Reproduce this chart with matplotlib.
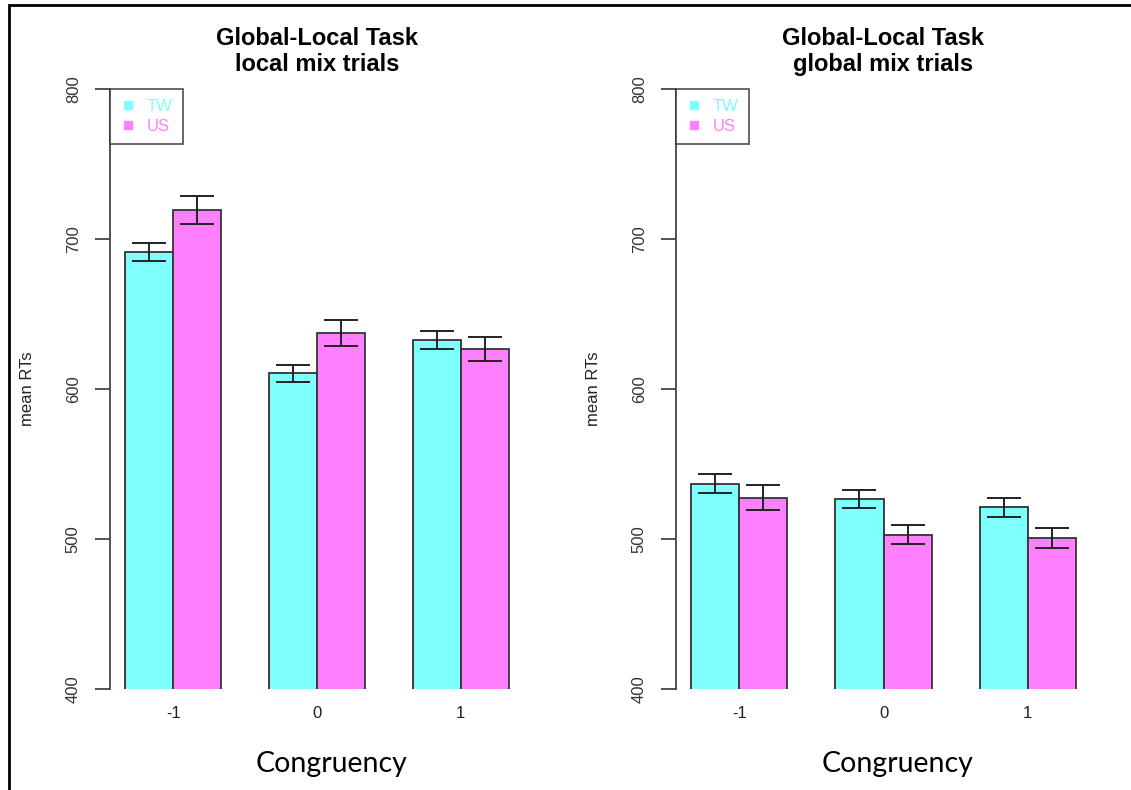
import numpy as np
import matplotlib.pyplot as plt
from matplotlib.patches import Rectangle
from matplotlib.lines import Line2D

# data
congruency = ['-1', '0', '1']
groups = ['TW', 'US']
local_tw = [691.2, 610.5, 632.9]
local_us = [719.3, 637.3, 626.8]
local_tw_se = [6.1, 5.8, 6.0]
local_us_se = [9.5, 8.5, 8.2]
global_tw = [536.9, 526.9, 521.1]
global_us = [527.6, 502.9, 500.7]
global_tw_se = [6.3, 6.0, 6.1]
global_us_se = [8.5, 6.5, 6.4]
titles = ['Global-Local Task\nlocal mix trials', 'Global-Local Task\nglobal mix trials']

cols = ['#80FFFF', '#FF80FF']
W, H = 1131, 790

fig = plt.figure(figsize=(W / 100, H / 100), dpi=100)
plt.rcParams['font.family'] = ['Liberation Sans', 'DejaVu Sans']

# outer frame (left + top edges visible in the reference)
fig.add_artist(Rectangle((9 / W, -0.1), 1.2, (H - 5) / H + 0.1, transform=fig.transFigure,
                         fill=False, edgecolor='black', linewidth=2))

panels = [
    (110, 524, local_tw, local_us, local_tw_se, local_us_se),
    (676, 1091, global_tw, global_us, global_tw_se, global_us_se),
]

for k, (x0, x1, tw, us, tw_se, us_se) in enumerate(panels):
    ax = fig.add_axes([x0 / W, (H - 689) / H, (x1 - x0) / W, 600 / H])
    # R barplot layout: bars width 1, groups separated by 1
    centers = np.array([2.0, 5.0, 8.0])
    xt = centers - 0.5
    xu = centers + 0.5
    ax.bar(xt, tw, width=1, bottom=0, color=cols[0], edgecolor='#333333', linewidth=1.3)
    ax.bar(xu, us, width=1, bottom=0, color=cols[1], edgecolor='#333333', linewidth=1.3)
    ax.errorbar(xt, tw, yerr=tw_se, fmt='none', ecolor='#222222', elinewidth=1.4,
                capsize=12, capthick=1.4)
    ax.errorbar(xu, us, yerr=us_se, fmt='none', ecolor='#222222', elinewidth=1.4,
                capsize=12, capthick=1.4)
    ax.set_xlim(1 - 0.32, 9 + 0.32)
    ax.set_ylim(400, 800)

    for s in ['top', 'right', 'bottom']:
        ax.spines[s].set_visible(False)
    ax.spines['left'].set_color('#444444')
    ax.spines['left'].set_linewidth(1.3)
    ax.set_yticks([400, 500, 600, 700, 800])
    ax.set_yticklabels(['400', '500', '600', '700', '800'], rotation=90, va='center',
                       fontsize=12, color='#333333')
    ax.tick_params(axis='y', length=11, width=1.3, color='#444444', pad=10)
    ax.set_xticks(centers)
    ax.set_xticklabels(congruency, fontsize=12, color='#222222')
    ax.tick_params(axis='x', length=0, pad=12)

    ax.set_ylabel('mean RTs', fontsize=12, labelpad=22, color='#222222')
    ax.set_xlabel('Congruency', fontsize=20.5, fontfamily='Lato')
    ax.xaxis.set_label_coords(0.535, -0.104)
    ax.set_title(titles[k], fontsize=17, fontweight='bold', pad=13, linespacing=1.15)

    handles = [Line2D([], [], marker='s', linestyle='none', color=c, markersize=6) for c in cols]
    leg = ax.legend(handles, groups, loc='upper left', bbox_to_anchor=(0, 1), frameon=True,
                    fancybox=False, fontsize=12, handletextpad=0.6, borderpad=0.6,
                    labelspacing=0.3, borderaxespad=0, handlelength=1)
    leg.get_frame().set_edgecolor('#333333')
    leg.get_frame().set_linewidth(1.3)
    for t, c in zip(leg.get_texts(), cols):
        t.set_color(c)

plt.savefig('out.png', dpi=100)
